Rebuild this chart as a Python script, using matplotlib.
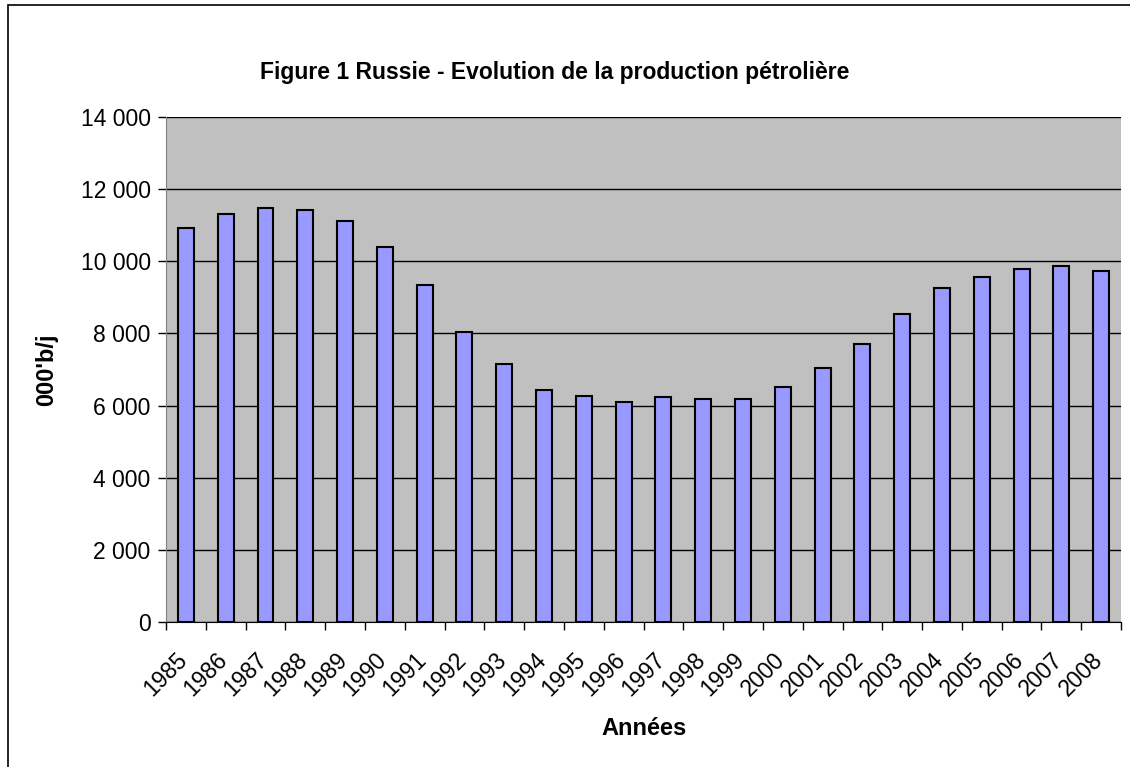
import matplotlib
matplotlib.use('Agg')
import matplotlib.pyplot as plt
from matplotlib.patches import Rectangle
from matplotlib.ticker import FuncFormatter

# --- DATA ---
years = [str(y) for y in range(1985, 2009)]
production = [10915, 11320, 11480, 11430, 11120, 10405, 9345, 8050, 7150, 6430,
              6270, 6110, 6225, 6170, 6170, 6525, 7045, 7720, 8540, 9270,
              9575, 9785, 9880, 9740]

TITLE = "Figure 1 Russie - Evolution de la production pétrolière"
XLABEL = "Années"
YLABEL = "000'b/j"

plt.rcParams['font.family'] = ['Liberation Sans', 'DejaVu Sans']

fig = plt.figure(figsize=(11.3, 7.67), dpi=100)
ax = fig.add_axes([0.1469, 0.189, 0.8452, 0.6585])

# outer chart frame (Excel style)
fig.patches.append(Rectangle((8 / 1130, -0.01), 1.2, (767 - 5) / 767 + 0.01,
                             transform=fig.transFigure, fill=False,
                             edgecolor='black', linewidth=1.2))

x = list(range(len(years)))
ax.set_facecolor('#C0C0C0')
ax.bar(x, production, width=0.4, color='#9999FF', edgecolor='black',
       linewidth=1.5, zorder=3)

ax.set_ylim(0, 14000)
ax.set_xlim(-0.5, len(years) - 0.5)
ax.set_yticks(range(0, 14001, 2000))
ax.yaxis.set_major_formatter(FuncFormatter(lambda v, p: f"{int(v):,}".replace(",", " ")))
ax.grid(axis='y', color='black', linewidth=1, zorder=1)

# category ticks between bars, labels near centres (slightly left, Excel style)
ax.set_xticks([i - 0.5 for i in range(len(years) + 1)])
ax.set_xticklabels([])
ax.set_xticks([i - 0.25 for i in x], minor=True)
ax.set_xticklabels(years, minor=True, rotation=45, ha='right', va='top',
                   rotation_mode='anchor', fontsize=16.5)
ax.tick_params(axis='x', which='minor', length=0, pad=19)
ax.tick_params(axis='x', which='major', length=6, width=1, direction='out')
ax.tick_params(axis='y', length=6, width=1, direction='out', labelsize=16.5, pad=5)

for side in ['top', 'right']:
    ax.spines[side].set_visible(False)
ax.spines['left'].set_color('#808080')
ax.spines['bottom'].set_color('black')

ax.set_xlabel(XLABEL, fontsize=17, fontweight='bold')
ax.set_ylabel(YLABEL, fontsize=17, fontweight='bold')
ax.yaxis.set_label_coords(-0.113, 0.5)
ax.xaxis.set_label_coords(0.5, -0.188)
fig.text(0.491, 0.906, TITLE, ha='center', va='center', fontsize=16.5, fontweight='bold')

plt.savefig('out.png', dpi=100)
plt.close('all')
